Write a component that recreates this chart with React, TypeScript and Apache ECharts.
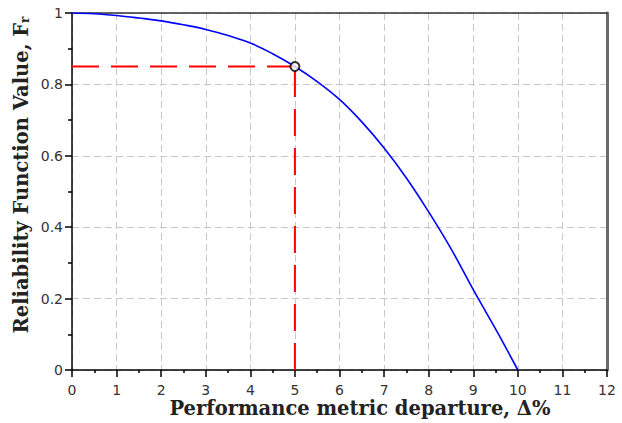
import React, { useEffect, useRef } from "react";
import * as echarts from "echarts";

const curveX = [0, 0.5, 1, 1.5, 2, 2.5, 3, 3.5, 4, 4.5, 5, 5.5, 6, 6.5, 7, 7.5, 8, 8.5, 9, 9.5, 10];
const curveY = [1.0, 0.998, 0.993, 0.986, 0.978, 0.967, 0.954, 0.937, 0.916, 0.886, 0.85, 0.808, 0.758, 0.695, 0.622, 0.538, 0.443, 0.34, 0.225, 0.115, 0.0];
const pointX = 5;
const pointY = 0.85;
const xTitle = "Performance metric departure, \u0394%";
const yTitle = "Reliability Function Value, F";
const ySub = "r";

export default function App() {
  const ref = useRef<HTMLDivElement>(null);
  useEffect(() => {
    if (!ref.current) return;
    const chart = echarts.init(ref.current, undefined, { renderer: "svg" });
    const labelStyle = { color: "#333", fontFamily: "DejaVu Sans", fontSize: 14, lineHeight: 14 };
    const gridLine = { show: true, lineStyle: { color: "#c8c8c8", type: [7, 4], width: 1 } };
    chart.setOption({
      animation: false,
      backgroundColor: "#fff",
      grid: { left: 72, right: 15, top: 13, bottom: 53, containLabel: false },
      xAxis: [
        {
          type: "value", min: 0, max: 12, interval: 1,
          axisLine: { show: true, onZero: false, lineStyle: { color: "#000", width: 1.5 } },
          axisTick: { show: true, length: 7, lineStyle: { color: "#000", width: 1.5 } },
          minorTick: { show: true, splitNumber: 2, length: 3, lineStyle: { color: "#000", width: 1.5 } },
          axisLabel: { ...labelStyle, margin: 13 },
          splitLine: gridLine,
        },
        {
          type: "value", min: 0, max: 12, position: "top",
          axisLine: { show: true, onZero: false, lineStyle: { color: "#333", width: 1.5 } },
          axisTick: { show: false }, axisLabel: { show: false }, splitLine: { show: false },
        },
      ],
      yAxis: [
        {
          type: "value", min: 0, max: 1, interval: 0.2,
          axisLine: { show: true, onZero: false, lineStyle: { color: "#000", width: 1.5 } },
          axisTick: { show: true, length: 7, lineStyle: { color: "#000", width: 1.5 } },
          minorTick: { show: true, splitNumber: 2, length: 4, lineStyle: { color: "#000", width: 1.5 } },
          axisLabel: { ...labelStyle, margin: 9 },
          splitLine: gridLine,
        },
        {
          type: "value", min: 0, max: 1, position: "right",
          axisLine: { show: true, onZero: false, lineStyle: { color: "#6a6a6a", width: 3 } },
          axisTick: { show: false }, axisLabel: { show: false }, splitLine: { show: false },
        },
      ],
      series: [
        {
          type: "line",
          data: curveX.map((x, i) => [x, curveY[i]]),
          smooth: 0.4,
          showSymbol: false,
          lineStyle: { color: "#0000ff", width: 1.6 },
          z: 3,
        },
        {
          type: "line",
          data: [[0, pointY], [pointX, pointY]],
          showSymbol: false,
          lineStyle: { color: "#ff0000", width: 2, type: [27, 12] },
          z: 4,
        },
        {
          type: "line",
          data: [[pointX, 0], [pointX, pointY]],
          showSymbol: false,
          lineStyle: { color: "#ff0000", width: 2, type: [27, 12] },
          z: 4,
        },
        {
          type: "scatter",
          data: [[pointX, pointY]],
          symbol: "circle",
          symbolSize: 9,
          itemStyle: { color: "#fff", borderColor: "#000", borderWidth: 2 },
          z: 5,
        },
      ],
      graphic: [
        {
          type: "text",
          x: 360,
          y: 408,
          style: {
            text: xTitle,
            fontFamily: "DejaVu Serif",
            fontWeight: "bold",
            fontSize: 19.5,
            lineHeight: 19,
            fill: "#222",
            textAlign: "center",
            textVerticalAlign: "middle",
          },
        },
        {
          type: "text",
          x: 21,
          y: 175,
          rotation: Math.PI / 2,
          style: {
            text: yTitle + "{sub|" + ySub + "}",
            fontFamily: "DejaVu Serif",
            fontWeight: "bold",
            fontSize: 19.5,
            fill: "#222",
            textAlign: "center",
            textVerticalAlign: "middle",
            rich: {
              sub: { fontFamily: "DejaVu Serif", fontWeight: "bold", fontSize: 12, fill: "#222", verticalAlign: "bottom", padding: [6, 0, 0, 0] },
            },
          },
        },
      ],
    });
    return () => chart.dispose();
  }, []);
  return <div ref={ref} style={{ position: "fixed", left: 0, top: 0, width: 622, height: 423 }} />;
}
